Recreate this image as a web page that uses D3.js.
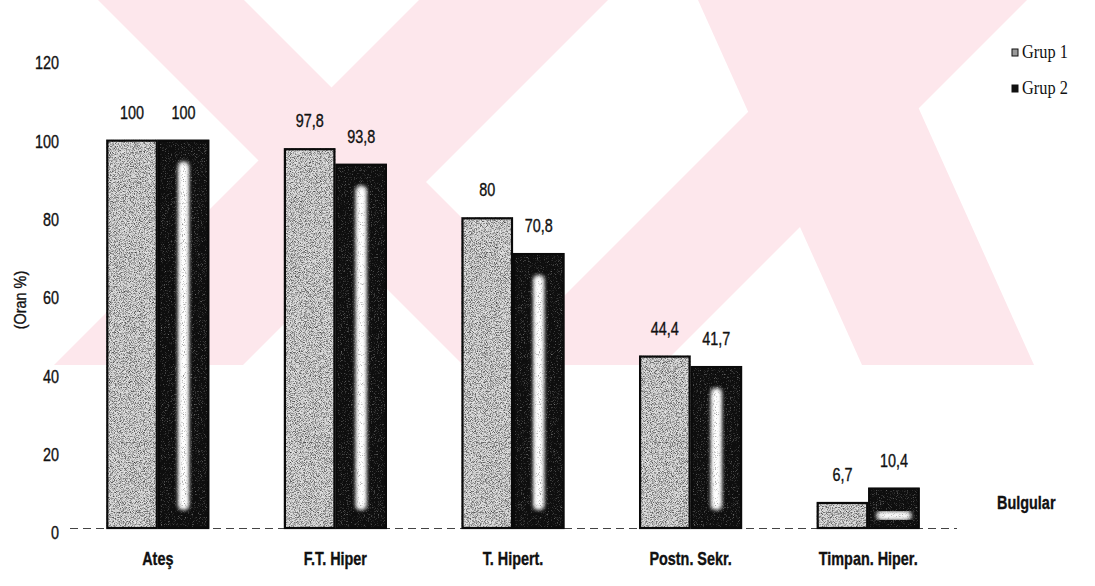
<!DOCTYPE html>
<html>
<head>
<meta charset="utf-8">
<script src="https://cdn.jsdelivr.net/npm/d3@7"></script>
<style>
  html, body { margin: 0; padding: 0; background: #fff; }
  svg { display: block; }
  .narrow { font-family: "Liberation Sans", Arial, sans-serif; fill: #111; stroke: #111; stroke-width: 0.35px; }
  .serif { font-family: "Liberation Serif", "Times New Roman", serif; fill: #111; }
</style>
</head>
<body>
<svg id="chart" width="1095" height="586"></svg>
<script>
// ---- data ----
const categories = ["Ateş", "F.T. Hiper", "T. Hipert.", "Postn. Sekr.", "Timpan. Hiper."];
const seriesNames = ["Grup 1", "Grup 2"];
const grup1 = [100, 97.8, 80, 44.4, 6.7];
const grup2 = [100, 93.8, 70.8, 41.7, 10.4];
const yTicks = [0, 20, 40, 60, 80, 100, 120];
const yTitle = "(Oran %)";
const xTitle = "Bulgular";

const W = 1095, H = 586;
const NARROW = 0.8; // horizontal squeeze for the condensed sans labels
const svg = d3.select("#chart");
const defs = svg.append("defs");

// ---- textures ----
const speckle = defs.append("filter").attr("id", "speckle")
  .attr("x", 0).attr("y", 0).attr("width", 1).attr("height", 1)
  .attr("color-interpolation-filters", "sRGB");
speckle.append("feTurbulence").attr("type", "fractalNoise").attr("baseFrequency", 1.2)
  .attr("numOctaves", 1).attr("seed", 7).attr("result", "noise");
speckle.append("feColorMatrix").attr("in", "noise").attr("type", "matrix")
  .attr("values", "0 0 0 0 0  0 0 0 0 0  0 0 0 0 0  -2.0 0 0 0 1.1").attr("result", "dk");
speckle.append("feColorMatrix").attr("in", "noise").attr("type", "matrix")
  .attr("values", "0 0 0 0 1  0 0 0 0 1  0 0 0 0 1  2.0 0 0 0 -0.9").attr("result", "lt");
const sm = speckle.append("feMerge").attr("result", "m");
sm.append("feMergeNode").attr("in", "SourceGraphic");
sm.append("feMergeNode").attr("in", "dk");
sm.append("feMergeNode").attr("in", "lt");
speckle.append("feComposite").attr("in", "m").attr("in2", "SourceAlpha").attr("operator", "in");

// soft, grainy bright streak inside the dark bars
const glow = defs.append("filter").attr("id", "glow")
  .attr("x", "-200%").attr("y", "-30%").attr("width", "500%").attr("height", "160%")
  .attr("color-interpolation-filters", "sRGB");
glow.append("feGaussianBlur").attr("stdDeviation", 2.6).attr("result", "b");
glow.append("feTurbulence").attr("type", "fractalNoise").attr("baseFrequency", 1.1)
  .attr("numOctaves", 1).attr("seed", 3).attr("result", "noise");
glow.append("feColorMatrix").attr("in", "noise").attr("type", "matrix")
  .attr("values", "0 0 0 0 0  0 0 0 0 0  0 0 0 0 0  -2.4 0 0 0 1.05").attr("result", "dk");
glow.append("feComposite").attr("in", "dk").attr("in2", "b").attr("operator", "in").attr("result", "dkc");
const gm = glow.append("feMerge");
gm.append("feMergeNode").attr("in", "b");
gm.append("feMergeNode").attr("in", "b");
gm.append("feMergeNode").attr("in", "b");
gm.append("feMergeNode").attr("in", "dkc");

// sparse light grain on the dark bars
const grain = defs.append("filter").attr("id", "grain")
  .attr("x", 0).attr("y", 0).attr("width", 1).attr("height", 1)
  .attr("color-interpolation-filters", "sRGB");
grain.append("feTurbulence").attr("type", "fractalNoise").attr("baseFrequency", 1.3)
  .attr("numOctaves", 1).attr("seed", 11).attr("result", "noise");
grain.append("feColorMatrix").attr("in", "noise").attr("type", "matrix")
  .attr("values", "0 0 0 0 0.8  0 0 0 0 0.8  0 0 0 0 0.8  1.8 0 0 0 -1.0").attr("result", "lt");
const grm = grain.append("feMerge").attr("result", "m");
grm.append("feMergeNode").attr("in", "SourceGraphic");
grm.append("feMergeNode").attr("in", "lt");
grain.append("feComposite").attr("in", "m").attr("in2", "SourceAlpha").attr("operator", "in");

// ---- background emblem (light red) ----
const clip = defs.append("clipPath").attr("id", "wmClip");
clip.append("rect").attr("x", 0).attr("y", 0).attr("width", W).attr("height", 365);
const wm = svg.append("g").attr("clip-path", "url(#wmClip)").attr("fill", "#fde7ec");
const strokes = [
  [[98, 0], [244, 0], [609, 365], [463, 365]],
  [[419, 0], [608, 0], [243, 365], [54, 365]],
  [[698, 0], [870, 0], [1034, 365], [862, 365]],
  [[860, 0], [1027, 0], [662, 365], [495, 365]]
];
wm.selectAll("polygon").data(strokes).join("polygon")
  .attr("points", d => d.map(p => p.join(",")).join(" "));

// ---- scales ----
const x0 = d3.scaleBand().domain(categories).range([69, 957])
  .paddingInner(0.42).paddingOuter(0.21);
const x1 = d3.scaleBand().domain(seriesNames).range([0, x0.bandwidth()]);
const y = d3.scaleLinear().domain([0, 120]).range([528, 62]);

const rows = categories.map((c, i) => ({
  cat: c,
  vals: [
    { s: "Grup 1", v: grup1[i] },
    { s: "Grup 2", v: grup2[i] }
  ]
}));
const fmt = v => String(v).replace(".", ",");

// ---- baseline ----
svg.append("line")
  .attr("x1", 70).attr("x2", x0.range()[1])
  .attr("y1", y(0) + 0.5).attr("y2", y(0) + 0.5)
  .attr("stroke", "#444").attr("stroke-width", 1.2)
  .attr("stroke-dasharray", "8,5");

// ---- bars ----
const groups = svg.append("g").selectAll("g").data(rows).join("g")
  .attr("transform", d => `translate(${x0(d.cat)},0)`);

groups.each(function (row) {
  const g = d3.select(this);
  row.vals.forEach(d => {
    const bx = x1(d.s), bw = x1.bandwidth();
    const by = y(d.v), bh = y(0) - y(d.v);
    if (d.s === "Grup 1") {
      g.append("rect").attr("x", bx).attr("y", by).attr("width", bw).attr("height", bh)
        .attr("fill", "#cacaca").attr("filter", "url(#speckle)");
    } else {
      g.append("rect").attr("x", bx).attr("y", by).attr("width", bw).attr("height", bh)
        .attr("fill", "#0e0e0e").attr("filter", "url(#grain)");
      if (bh > 70) {
        g.append("rect").attr("x", bx + bw / 2 - 3.5).attr("y", by + 24)
          .attr("width", 7).attr("height", bh - 44)
          .attr("fill", "#ffffff").attr("filter", "url(#glow)");
      } else {
        g.append("rect").attr("x", bx + 10).attr("y", by + bh - 15)
          .attr("width", bw - 20).attr("height", 5)
          .attr("fill", "#ffffff").attr("filter", "url(#glow)");
      }
    }
    g.append("rect").attr("x", bx + 1).attr("y", by + 1)
      .attr("width", bw - 2).attr("height", bh - 1)
      .attr("fill", "none").attr("stroke", "#0a0a0a").attr("stroke-width", 2.2);
    g.append("text").attr("class", "narrow")
      .attr("transform", `translate(${bx + bw / 2},${by - 21}) scale(${NARROW},1)`)
      .attr("text-anchor", "middle").attr("font-size", 18)
      .text(fmt(d.v));
  });
});

// ---- y axis (labels only) ----
const yAxis = d3.axisLeft(y).tickValues(yTicks).tickSize(0).tickPadding(0);
const yg = svg.append("g").attr("transform", "translate(59,0)").call(yAxis);
yg.select(".domain").remove();
yg.selectAll("text").attr("class", "narrow").attr("font-size", 18)
  .attr("font-family", null).attr("x", 0).attr("dy", "0.6em")
  .attr("transform", d => `translate(0,${(d / 120) * -4}) scale(${NARROW},1)`);

// ---- x axis (category labels) ----
const xAxis = d3.axisBottom(x0).tickSize(0).tickPadding(0);
const xg = svg.append("g").attr("transform", "translate(0,559)").call(xAxis);
xg.select(".domain").remove();
xg.selectAll("text").attr("class", "narrow").attr("font-size", 18)
  .attr("font-weight", "bold").attr("stroke-width", 0)
  .attr("font-family", null).attr("y", 0).attr("dy", "0.35em")
  .attr("transform", `scale(${NARROW},1)`);

// ---- titles ----
svg.append("text").attr("class", "narrow").attr("font-size", 16)
  .attr("text-anchor", "middle").attr("stroke-width", 0.2)
  .attr("transform", "translate(26,300) rotate(-90) scale(0.9,1)")
  .text(yTitle);
svg.append("text").attr("class", "narrow").attr("font-size", 19)
  .attr("font-weight", "bold").attr("stroke-width", 0)
  .attr("transform", `translate(997,509) scale(${NARROW * 0.95},1)`)
  .text(xTitle);

// ---- legend ----
const leg = svg.append("g").selectAll("g").data(seriesNames).join("g")
  .attr("transform", (d, i) => `translate(1012,${53 + i * 36})`);
leg.append("rect").attr("x", 0).attr("y", -4).attr("width", 6).attr("height", 7)
  .attr("fill", (d, i) => i === 0 ? "#9a9a9a" : "#111")
  .attr("stroke", "#111").attr("stroke-width", 1);
leg.append("text").attr("class", "serif").attr("font-size", 19)
  .attr("transform", "translate(10,5) scale(0.86,1)").text(d => d);
</script>
</body>
</html>
